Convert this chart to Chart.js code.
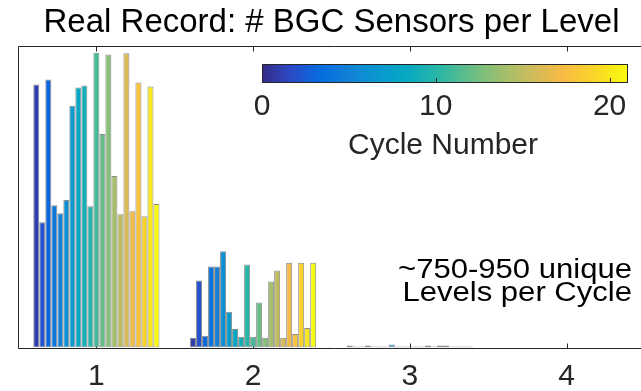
<!DOCTYPE html>
<html>
<head>
<meta charset="utf-8">
<script src="https://cdn.jsdelivr.net/npm/chart.js@4"></script>
<style>
  html, body { margin: 0; padding: 0; background: #fff; overflow: hidden; }
  #wrap { position: relative; width: 650px; height: 391px; }
</style>
</head>
<body>
<div id="wrap"><canvas id="bars"></canvas></div>
<script>
// number of BGC sensors on a level (x categories)
const levels = ["1", "2", "3", "4"];
// profile cycles, one bar per cycle in every group
const cycles = [1, 2, 3, 4, 5, 6, 7, 8, 9, 10, 11, 12, 13, 14, 15, 16, 17, 18, 19, 20, 21];

// count of levels per cycle
const level1Counts = [785, 374, 800, 425, 401, 440, 722, 776, 782, 422, 880, 637, 875, 512, 398, 878, 407, 791, 392, 779, 428];
const level2Counts = [29, 200, 35, 242, 242, 287, 107, 55, 32, 248, 32, 134, 29, 197, 230, 29, 253, 40, 253, 58, 253];
const level3Counts = [6, 3, 3, 6, 3, 3, 3, 9, 3, 3, 3, 3, 3, 6, 3, 6, 6, 3, 3, 3, 3];
const level4Counts = [0, 0, 0, 0, 0, 0, 0, 0, 0, 0, 0, 0, 0, 0, 0, 0, 0, 0, 0, 0, 0];

const colorbarTicks = [0, 10, 20];
const colorbarMax = 21;

const titleText = "Real Record: # BGC Sensors per Level";
const noteLines = ["~750-950 unique", "Levels per Cycle"];

// parula anchor colours
const parula = [
  [0.2081, 0.1663, 0.5292], [0.1707, 0.2919, 0.7792], [0.0165, 0.4266, 0.8786],
  [0.0779, 0.5040, 0.8384], [0.0343, 0.5966, 0.8199], [0.0267, 0.6642, 0.7607],
  [0.1801, 0.7177, 0.6424], [0.4420, 0.7481, 0.5033], [0.6473, 0.7456, 0.4188],
  [0.8185, 0.7327, 0.3498], [0.9739, 0.7314, 0.2666], [0.9789, 0.8271, 0.1633],
  [0.9763, 0.9831, 0.0538]
];
const parulaPos = [0, 5, 10, 15, 20, 25, 31, 37, 42, 47, 52, 57, 63].map(i => i / 63);

function parulaAt(t) {
  t = Math.max(0, Math.min(1, t));
  let i = 0;
  while (i < parulaPos.length - 2 && t > parulaPos[i + 1]) i++;
  const f = (t - parulaPos[i]) / (parulaPos[i + 1] - parulaPos[i]);
  const c = parula[i].map((v, k) => Math.round(255 * (v + (parula[i + 1][k] - v) * f)));
  return "rgb(" + c.join(",") + ")";
}

const FONT = "'Liberation Sans', Arial, Helvetica, sans-serif";
const AXIS = "#262626";

const datasets = cycles.map((c, i) => ({
  label: "Cycle " + c,
  data: [level1Counts[i], level2Counts[i], level3Counts[i], level4Counts[i]],
  backgroundColor: parulaAt(c / colorbarMax),
  borderColor: "#8c8c8c",
  borderWidth: 1,
  borderSkipped: false,
  categoryPercentage: 0.805,
  barPercentage: 1
}));

// axes box and inward ticks, drawn under the bars like MATLAB
const frame = {
  id: "frame",
  beforeDatasetsDraw(chart) {
    const { ctx, chartArea: a, scales: { x, y } } = chart;
    const base = Math.round(y.getPixelForValue(0)) + 0.5;
    const left = Math.round(a.left) + 0.5;
    const top = Math.round(a.top) + 0.5;
    ctx.save();
    ctx.strokeStyle = AXIS;
    ctx.lineWidth = 1;
    ctx.beginPath();
    ctx.moveTo(a.right + 5, top);
    ctx.lineTo(left, top);
    ctx.lineTo(left, base);
    ctx.lineTo(a.right + 5, base);
    for (let i = 0; i < levels.length; i++) {
      const px = Math.round(x.getPixelForTick(i)) + 0.5;
      ctx.moveTo(px, base);
      ctx.lineTo(px, base - 5);
      ctx.moveTo(px, top);
      ctx.lineTo(px, top + 5);
    }
    ctx.stroke();
    ctx.restore();
  },
  afterDraw(chart) {
    const { ctx } = chart;
    ctx.save();
    // colorbar
    const cbL = 262, cbR = 627, cbT = 64, cbB = 82;
    const g = ctx.createLinearGradient(cbL, 0, cbR, 0);
    for (let i = 0; i <= 40; i++) g.addColorStop(i / 40, parulaAt(i / 40));
    ctx.fillStyle = g;
    ctx.fillRect(cbL, cbT, cbR - cbL, cbB - cbT);
    ctx.strokeStyle = AXIS;
    ctx.lineWidth = 1;
    ctx.strokeRect(cbL + 0.5, cbT + 0.5, cbR - cbL, cbB - cbT);
    ctx.fillStyle = AXIS;
    ctx.font = "30px " + FONT;
    ctx.textAlign = "center";
    ctx.textBaseline = "alphabetic";
    colorbarTicks.forEach(v => {
      const px = cbL + (cbR - cbL) * v / colorbarMax;
      ctx.beginPath();
      ctx.moveTo(Math.round(px) + 0.5, cbB);
      ctx.lineTo(Math.round(px) + 0.5, cbB - 4);
      ctx.stroke();
      ctx.fillText(String(v), px, 115);
    });
    ctx.fillText("Cycle Number", 443, 154);
    // note, slightly wide lettering as in the figure
    ctx.fillStyle = "#000";
    ctx.font = "27px " + FONT;
    ctx.textAlign = "right";
    ctx.translate(632, 0);
    ctx.scale(1.15, 1);
    ctx.fillText(noteLines[0], 0, 278);
    ctx.fillText(noteLines[1], 0, 301);
    ctx.restore();
  }
};

new Chart(document.getElementById("bars"), {
  type: "bar",
  data: { labels: levels, datasets: datasets },
  options: {
    responsive: true,
    maintainAspectRatio: false,
    animation: false,
    layout: { padding: { left: 18, right: 5, top: 0, bottom: 0 } },
    plugins: {
      legend: { display: false },
      tooltip: { enabled: false },
      title: {
        display: true,
        text: titleText,
        color: "#000",
        font: { family: FONT, size: 33, weight: "normal", lineHeight: 1.2 },
        padding: { top: 3, bottom: 3.4 }
      }
    },
    scales: {
      x: {
        grid: { display: false },
        border: { display: false },
        ticks: { color: AXIS, font: { family: FONT, size: 30 }, padding: 3, maxRotation: 0 },
        afterFit(scale) { scale.height = 43.5; }
      },
      y: { display: false, min: 0, max: 900 }
    }
  },
  plugins: [frame]
});
</script>
</body>
</html>
